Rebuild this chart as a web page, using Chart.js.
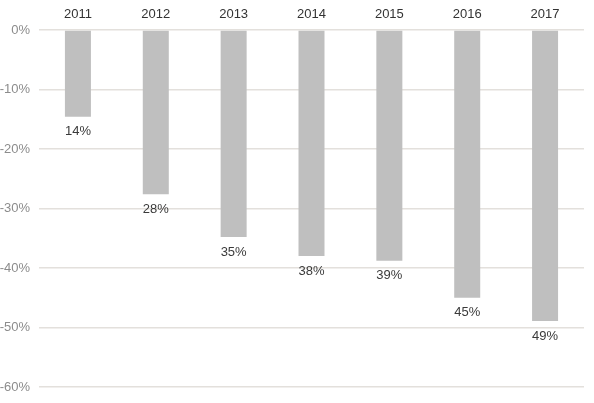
<!DOCTYPE html>
<html>
<head>
<meta charset="utf-8">
<script src="https://cdn.jsdelivr.net/npm/chart.js@4"></script>
<style>
  html, body { margin: 0; padding: 0; background: #fff; }
  #wrap { width: 594px; height: 403px; }
</style>
</head>
<body>
<div id="wrap"><canvas id="chart" width="594" height="403"></canvas></div>
<script>
// values (share, shown as a drop below 0%)
const years = ['2011', '2012', '2013', '2014', '2015', '2016', '2017'];
const drops = [-14.6, -27.6, -34.8, -38.0, -38.8, -45.0, -48.9];
const shownLabels = ['14%', '28%', '35%', '38%', '39%', '45%', '49%'];
const yTicks = [0, -10, -20, -30, -40, -50, -60];

const FONT = '"Liberation Sans", Arial, sans-serif';

// draws the % text under each bar end
const barLabels = {
  id: 'barLabels',
  afterDatasetsDraw(chart) {
    const ctx = chart.ctx;
    const meta = chart.getDatasetMeta(0);
    ctx.save();
    ctx.font = '13px ' + FONT;
    ctx.fillStyle = '#3a3a3a';
    ctx.textAlign = 'center';
    ctx.textBaseline = 'middle';
    meta.data.forEach((bar, i) => {
      ctx.fillText(shownLabels[i], bar.x, bar.y + 15);
    });
    ctx.restore();
  }
};

new Chart(document.getElementById('chart'), {
  type: 'bar',
  data: {
    labels: years,
    datasets: [{
      data: drops,
      backgroundColor: '#bfbfbf',
      barPercentage: 0.334,
      categoryPercentage: 1
    }]
  },
  options: {
    responsive: false,
    animation: false,
    layout: { padding: { left: 0, right: 10, top: 0, bottom: 16 } },
    plugins: { legend: { display: false }, tooltip: { enabled: false } },
    scales: {
      x: {
        position: 'top',
        grid: { display: false },
        border: { display: false },
        ticks: { color: '#333', font: { family: FONT, size: 13 }, padding: 0 },
        afterFit: s => { s.height = 30; }
      },
      y: {
        min: -60, max: 0,
        afterBuildTicks: s => { s.ticks = yTicks.map(v => ({ value: v })); },
        grid: { color: '#e3e0dc', lineWidth: 1.5, drawTicks: false },
        border: { display: false },
        ticks: {
          color: '#8c8c8c',
          font: { family: FONT, size: 13 },
          padding: 9,
          callback: v => v + '%'
        },
        afterFit: s => { s.width = 39; s.paddingBottom = 0; s.paddingTop = 0; }
      }
    }
  },
  plugins: [barLabels]
});
</script>
</body>
</html>
